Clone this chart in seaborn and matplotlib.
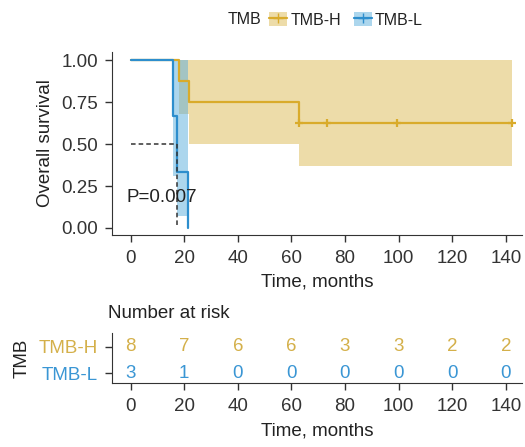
import numpy as np
import pandas as pd
import seaborn as sns
import matplotlib.pyplot as plt
from matplotlib.patches import Patch
from matplotlib.lines import Line2D
from matplotlib.legend_handler import HandlerTuple

# step curves (months, survival)
h_time = [0, 18.0, 21.8, 62.8, 142.3]
h_surv = [1.0, 0.875, 0.75, 0.625, 0.625]
h_ci_time = [18.0, 21.8, 62.8, 142.3]
h_ci_low = [0.68, 0.50, 0.37, 0.37]
h_ci_high = [1.0, 1.0, 1.0, 1.0]
h_censor = [62.8, 73.4, 99.5, 142.3]

l_time = [0, 16.0, 17.2, 21.6]
l_surv = [1.0, 0.667, 0.333, 0.0]
l_ci_time = [16.0, 17.2, 21.6]
l_ci_low = [0.31, 0.07, 0.07]
l_ci_high = [1.0, 1.0, 1.0]

median_l = 17.2
p_text = "P=0.007"

risk_times = [0, 20, 40, 60, 80, 100, 120, 140]
risk_h = [8, 7, 6, 6, 3, 3, 2, 2]
risk_l = [3, 1, 0, 0, 0, 0, 0, 0]

col_h = "#D9AB2B"
col_h_band = "#DDBB55"
col_l = "#2D8ECD"
col_l_band = "#5AAEDD"
txt_h = "#D4B04A"
txt_l = "#3A96D4"

sns.set_style("ticks")
plt.rcParams["font.family"] = ["Liberation Sans", "DejaVu Sans"]
plt.rcParams["font.size"] = 13.5
plt.rcParams["axes.edgecolor"] = "#333333"
plt.rcParams["xtick.color"] = "#333333"
plt.rcParams["ytick.color"] = "#333333"
plt.rcParams["text.color"] = "#222222"
plt.rcParams["axes.labelcolor"] = "#222222"

fig = plt.figure(figsize=(5.25, 4.47), dpi=100)
ax = fig.add_axes([0.213, 0.475, 0.781, 0.409])

# confidence bands
ax.fill_between(h_ci_time, h_ci_low, h_ci_high, step="post",
                color=col_h_band, alpha=0.5, lw=0)
ax.fill_between(l_ci_time, l_ci_low, l_ci_high, step="post",
                color=col_l_band, alpha=0.5, lw=0)

df_h = pd.DataFrame({"time": h_time, "surv": h_surv})
df_l = pd.DataFrame({"time": l_time, "surv": l_surv})
sns.lineplot(data=df_h, x="time", y="surv", drawstyle="steps-post",
             color=col_h, lw=1.6, ax=ax)
sns.lineplot(data=df_l, x="time", y="surv", drawstyle="steps-post",
             color=col_l, lw=1.6, ax=ax)
sns.scatterplot(x=h_censor, y=[h_surv[-1]] * len(h_censor), marker="+",
                s=40, color=col_h, linewidth=1.6, ax=ax, zorder=5)

# median line
ax.plot([0, median_l], [0.5, 0.5], ls=(0, (3, 2)), color="#333333", lw=1.1)
ax.plot([median_l, median_l], [0.5, 0], ls=(0, (3, 2)), color="#333333", lw=1.1)

ax.text(-1.5, 0.18, p_text, fontsize=13.5, va="center", ha="left")

ax.set_xlim(-7, 146)
ax.set_ylim(-0.04, 1.05)
ax.set_xticks(risk_times)
ax.set_yticks([0, 0.25, 0.5, 0.75, 1.0])
ax.set_yticklabels(["0.00", "0.25", "0.50", "0.75", "1.00"])
ax.set_xlabel("Time, months", labelpad=5)
ax.set_ylabel("Overall survival", labelpad=5)
ax.tick_params(axis="x", length=5, width=1, pad=6)
ax.tick_params(axis="y", length=5, width=1, pad=5)
sns.despine(ax=ax)

# legend
fig.text(228 / 525, 1 - 20 / 447, "TMB", fontsize=11.5, va="center", ha="left")
handles = [
    (Patch(facecolor=col_h_band, alpha=0.5, edgecolor="none"),
     Line2D([], [], color=col_h, lw=1.6, marker="+", markersize=7)),
    (Patch(facecolor=col_l_band, alpha=0.5, edgecolor="none"),
     Line2D([], [], color=col_l, lw=1.6, marker="+", markersize=7)),
]
fig.legend(handles, ["TMB-H", "TMB-L"], ncol=2, frameon=False, fontsize=11.5,
           handler_map={tuple: HandlerTuple(ndivide=1, pad=0)},
           loc="center left", bbox_to_anchor=(269 / 525, 1 - 20 / 447),
           handlelength=1.13, handleheight=0.95, handletextpad=0.2,
           columnspacing=0.8, borderaxespad=0, borderpad=0)

# risk table
rax = fig.add_axes([0.213, 0.143, 0.781, 0.112])
for t, n in zip(risk_times, risk_h):
    rax.text(t, 1, str(n), color=txt_h, ha="center", va="center", fontsize=13.5)
for t, n in zip(risk_times, risk_l):
    rax.text(t, 0, str(n), color=txt_l, ha="center", va="center", fontsize=13.5)
rax.set_xlim(-7, 146)
rax.set_ylim(-0.38, 1.52)
rax.set_xticks(risk_times)
rax.set_yticks([1, 0])
rax.set_yticklabels(["TMB-H", "TMB-L"])
for lab, c in zip(rax.get_yticklabels(), [txt_h, txt_l]):
    lab.set_color(c)
rax.set_xlabel("Time, months", labelpad=5)
rax.set_ylabel("TMB", labelpad=6)
rax.tick_params(axis="x", length=5, width=1, pad=6)
rax.tick_params(axis="y", length=5, width=1, pad=5)
sns.despine(ax=rax)
fig.text(108 / 525, 1 - 314 / 447, "Number at risk", fontsize=13.5,
         va="center", ha="left")

fig.savefig("out.png", dpi=100)
